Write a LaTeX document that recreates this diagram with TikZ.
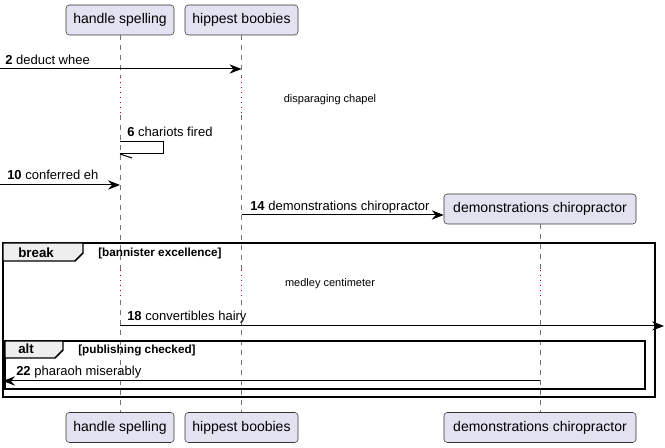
\documentclass[tikz,border=0pt]{standalone}
\usepackage{fontspec}
\setmainfont{Liberation Sans}
\usetikzlibrary{arrows.meta,positioning}
\definecolor{boxfill}{HTML}{E2E2F0}
\definecolor{dred}{HTML}{A80036}
\definecolor{tabfill}{HTML}{EEEEEE}

\begin{document}
\begin{tikzpicture}[x=0.75pt,y=-0.75pt,
  part/.style={draw=black!80,fill=boxfill,rounded corners=2.5pt,minimum height=22.5pt,inner sep=0pt,font=\fontsize{10.5}{12}\selectfont},
  msg/.style={-{Stealth[length=9pt,width=7pt,inset=3pt]},line width=0.75pt},
  lbl/.style={anchor=base west,inner sep=0pt,font=\fontsize{9.75}{11}\selectfont},
  delaytxt/.style={anchor=base,inner sep=0pt,font=\fontsize{8.25}{10}\selectfont},
  life/.style={draw=black!55,dash pattern=on 3.75pt off 3.75pt,line width=0.5pt},
  delayline/.style={draw=dred,dash pattern=on 0.75pt off 3pt,line width=0.75pt},
  frm/.style={line width=1.1pt},
  tablbl/.style={anchor=base west,inner sep=0pt,font=\bfseries\fontsize{10}{11}\selectfont},
  cond/.style={anchor=base west,inner sep=0pt,font=\bfseries\fontsize{8.8}{10}\selectfont}]

\fill[white] (0,0) rectangle (665,448);
\useasboundingbox (0,0) rectangle (665,448);

% participants
\node[part,minimum width=81pt] (T-hs) at (120,20) {handle spelling};
\node[part,minimum width=84.75pt] (T-hb) at (241.5,20) {hippest boobies};
\node[part,minimum width=81pt] (B-hs) at (120,427.5) {handle spelling};
\node[part,minimum width=84.75pt] (B-hb) at (241.5,427.5) {hippest boobies};
\node[part,minimum width=144pt] (B-dc) at (540,427.5) {demonstrations chiropractor};

% lifelines
\foreach \p in {hs,hb}
{
\draw[life] (T-\p.south) -- (T-\p.south |- 0,77) (T-\p.south |- 0,115) -- (T-\p.south |- 0,270) (T-\p.south |- 0,300) -- (B-\p.north);
\draw[delayline] (T-\p.south |- 0,77) -- (T-\p.south |- 0,115);
\draw[delayline] (T-\p.south |- 0,270) -- (T-\p.south |- 0,300);
}

% free ends
\coordinate (in2) at (0,69);
\coordinate (in10) at (0,185);
\coordinate (out18) at (664,326);
\coordinate (out22) at (3,381);

\draw[msg] (in2) -- (T-hb.south |- in2);
\node[lbl] (l2) at (5,65) {\textbf{2} deduct whee};

\node[delaytxt] (d1) at (330,103) {disparaging chapel};

\coordinate (s6) at (T-hs.south |- 0,142);
\coordinate (r6) at (T-hs.south |- 0,154);
\draw[line width=0.75pt] (s6) -- ++(43,0) -- ++(0,12) -- (r6);
\draw[line width=0.75pt] (r6) -- ++(12,4);
\node[lbl] (l6) at (127,137) {\textbf{6} chariots fired};

\draw[msg] (in10) -- (T-hs.south |- in10);
\node[lbl] (l10) at (7,180) {\textbf{10} conferred eh};

\node[part,minimum width=144pt] (T-dc) at (540,209) {demonstrations chiropractor};
\draw[msg] (T-hb.south |- 0,215) -- (T-dc.west |- 0,215);
\node[lbl] (l14) at (250,211) {\textbf{14} demonstrations chiropractor};

\draw[life] (T-dc.south) -- (T-dc.south |- 0,270) (T-dc.south |- 0,300) -- (B-dc.north);
\draw[delayline] (T-dc.south |- 0,270) -- (T-dc.south |- 0,300);

% break
\draw[frm] (3,243) rectangle (655,397);
\draw[frm,fill=tabfill] (3,243) -- (83,243) -- (83,253) -- (75,261) -- (3,261) -- cycle;
\node[tablbl] (tb) at (18,258) {break};
\node[cond] (cb) at (98,257) {[bannister excellence]};

\node[delaytxt] (d2) at (330,287) {medley centimeter};

\draw[msg] (T-hs.south |- out18) -- (out18);
\node[lbl] (l18) at (127,321) {\textbf{18} convertibles hairy};

% alt
\draw[frm] (5,341) rectangle (645,389);
\draw[frm,fill=tabfill] (5,341) -- (63,341) -- (63,350) -- (55,358) -- (5,358) -- cycle;
\node[tablbl] (ta) at (18,354) {alt};
\node[cond] (ca) at (78,354) {[publishing checked]};

\draw[msg] (T-dc.south |- out22) -- (out22);
\node[lbl] (l22) at (16,376) {\textbf{22} pharaoh miserably};
\end{tikzpicture}
\end{document}
